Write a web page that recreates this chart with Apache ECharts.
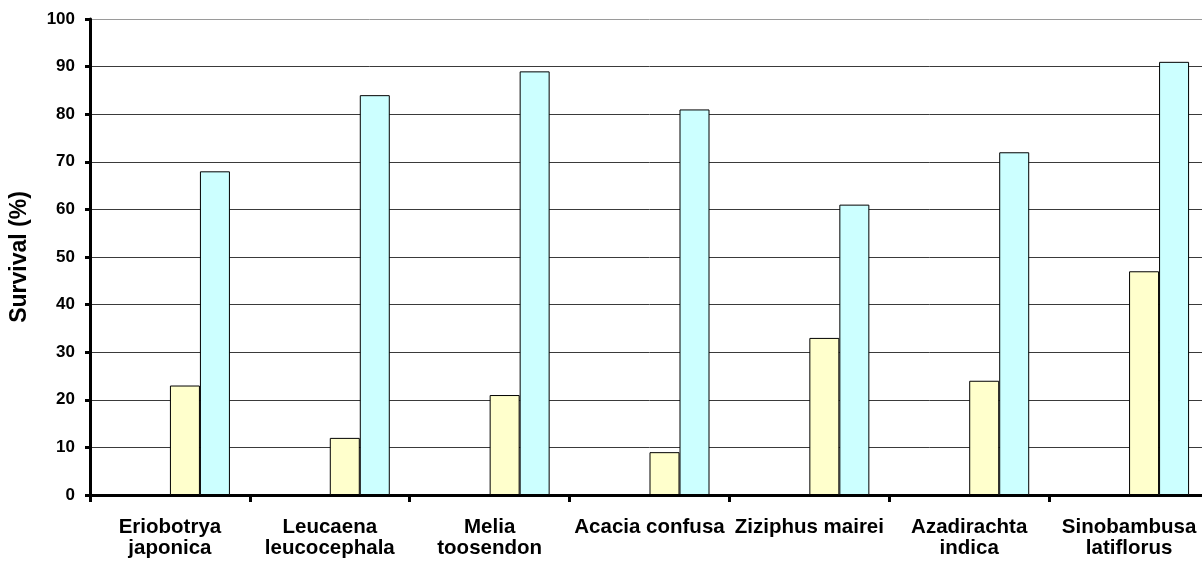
<!DOCTYPE html>
<html>
<head>
<meta charset="utf-8">
<script src="https://cdn.jsdelivr.net/npm/echarts@6/dist/echarts.min.js"></script>
<style>
  html, body { margin: 0; padding: 0; background: #fff; overflow: hidden; }
  /* plot area runs a little past the right edge of the window, as in the original */
  #chart { width: 1209px; height: 562px; }
</style>
</head>
<body>
<div id="chart"></div>
<script>
// species (category axis)
const species = [
  "Eriobotrya\njaponica",
  "Leucaena\nleucocephala",
  "Melia\ntoosendon",
  "Acacia confusa",
  "Ziziphus mairei",
  "Azadirachta\nindica",
  "Sinobambusa\nlatiflorus"
];
// survival values
const survivalYellow = [23, 12, 21, 9, 33, 24, 47];
const survivalCyan = [68, 84, 89, 81, 61, 72, 91];
// empty slots the original chart keeps to the left of each pair
const emptySlot = ["-", "-", "-", "-", "-", "-", "-"];
const yTicks = [0, 10, 20, 30, 40, 50, 60, 70, 80, 90, 100];

const chart = echarts.init(document.getElementById("chart"));

const font = "Liberation Sans, Arial, sans-serif";
const barBase = {
  type: "bar",
  barWidth: 30,
  barGap: "0%",
  itemStyle: { borderColor: "#000", borderWidth: 1 }
};

// grid lines: dark ones, the top line lighter
const gridColors = yTicks.map((v) => (v === 100 ? "#9a9a9a" : "#3a3a3a"));

chart.setOption({
  animation: false,
  textStyle: { fontFamily: font },
  grid: { left: 88, right: 0, top: 19, bottom: 67, containLabel: false },
  xAxis: {
    type: "category",
    data: species,
    axisLine: { lineStyle: { color: "#000", width: 3 } },
    axisTick: { show: true, length: 7, lineStyle: { color: "#000", width: 3 } },
    axisLabel: {
      color: "#000",
      fontWeight: "bold",
      fontSize: 20.5,
      lineHeight: 21,
      margin: 22,
      interval: 0,
      fontFamily: font
    }
  },
  yAxis: {
    type: "value",
    min: 0,
    max: 100,
    interval: 10,
    name: "Survival (%)",
    nameLocation: "middle",
    nameGap: 59,
    nameRotate: 90,
    nameTextStyle: { color: "#000", fontWeight: "bold", fontSize: 23, fontFamily: font },
    axisLine: { show: true, lineStyle: { color: "#000", width: 3 } },
    axisTick: { show: true, length: 5, lineStyle: { color: "#000", width: 3 } },
    axisLabel: { color: "#000", fontWeight: "bold", fontSize: 17, margin: 15, fontFamily: font },
    splitLine: { show: true, lineStyle: { color: gridColors, width: 1 } }
  },
  series: [
    Object.assign({}, barBase, { name: "empty1", data: emptySlot }),
    Object.assign({}, barBase, { name: "empty2", data: emptySlot }),
    Object.assign({}, barBase, { name: "yellow", data: survivalYellow, itemStyle: { color: "#FFFFCC", borderColor: "#000", borderWidth: 1 } }),
    Object.assign({}, barBase, { name: "cyan", data: survivalCyan, itemStyle: { color: "#CCFFFF", borderColor: "#000", borderWidth: 1 } })
  ]
});
</script>
</body>
</html>
